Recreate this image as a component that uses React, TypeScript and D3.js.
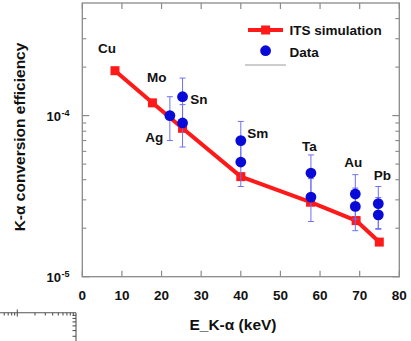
import React from "react";
import * as d3 from "d3";

// ITS simulation: K-alpha conversion efficiency vs K-alpha energy (keV)
const simEnergy = [8.25, 17.7, 25.3, 40.0, 57.6, 69.1, 74.95];
const simEff = [1.9e-4, 1.2e-4, 8.34e-5, 4.18e-5, 2.9e-5, 2.23e-5, 1.64e-5];

// Measured data with error bars
const dataEnergy = [22.1, 25.3, 25.3, 40.0, 40.0, 57.7, 57.7, 68.9, 68.9, 74.7, 74.7];
const dataEff = [1.0e-4, 1.31e-4, 9.0e-5, 7.0e-5, 5.15e-5, 4.4e-5, 3.12e-5, 3.26e-5, 2.73e-5, 2.84e-5, 2.42e-5];
const dataLo = [7.0e-5, 9.1e-5, 6.38e-5, 4.9e-5, 3.63e-5, 3.08e-5, 2.2e-5, 2.28e-5, 1.93e-5, 1.99e-5, 1.97e-5];
const dataHi = [1.31e-4, 1.71e-4, 1.17e-4, 9.2e-5, 6.7e-5, 5.7e-5, 4.06e-5, 4.3e-5, 3.55e-5, 3.63e-5, 3.1e-5];

// Element annotations (anchored in data units)
const elements = ["Cu", "Mo", "Sn", "Ag", "Sm", "Ta", "Au", "Pb"];
const elemEnergy = [6.23, 18.78, 29.45, 18.17, 44.27, 57.29, 68.39, 75.71];
const elemEff = [2.63e-4, 1.72e-4, 1.26e-4, 7.29e-5, 7.77e-5, 6.41e-5, 5.1e-5, 4.28e-5];

const xTicks = [0, 10, 20, 30, 40, 50, 60, 70, 80];
const yMajor = [1e-5, 1e-4];
const yMinor = [2e-5, 3e-5, 4e-5, 5e-5, 6e-5, 7e-5, 8e-5, 9e-5, 2e-4, 3e-4, 4e-4];
const yLabels = [{ v: 1e-4, exp: "-4" }, { v: 1e-5, exp: "-5" }];

const FONT = "'Liberation Sans', Arial, sans-serif";
const FRAME = "#8a8a8a";

export default function App() {
  const L = 82.3, R = 399.3, T = 3, B = 276.7;
  const x = d3.scaleLinear().domain([0, 80]).range([L, R]);
  const y = d3.scaleLog().domain([1e-5, 5e-4]).range([B, T]);

  const simLine = d3
    .line<number>()
    .x((_, i) => x(simEnergy[i]))
    .y((d) => y(d))(simEff) as string;

  // fragment of a neighbouring log-log panel, bottom-left corner
  const fx = d3.scaleLog().domain([1, 10]).range([17.3, 76]);
  const fy = d3.scaleLog().domain([1, 10]).range([372, 312.7]);
  const fxMinor = [0.6, 0.7, 0.8, 0.9, 2, 3, 4, 5, 6, 7, 8, 9];
  const fyMinor = [3, 4, 5, 6, 7, 8, 9];

  const sq = 9;
  const capW = 3;

  return (
    <svg
      width={411}
      height={341}
      style={{ position: "absolute", left: 0, top: 0, background: "#fff" }}
      fontFamily={FONT}
    >
      {/* frame */}
      <rect x={L} y={T} width={R - L} height={B - T} fill="none" stroke={FRAME} strokeWidth={1.3} />

      {/* x ticks (inward, bottom and top) */}
      {xTicks.map((t) => (
        <g key={"xt" + t}>
          <line x1={x(t)} x2={x(t)} y1={B} y2={B - 6} stroke={FRAME} strokeWidth={1.2} />
          <line x1={x(t)} x2={x(t)} y1={T} y2={T + 6} stroke={FRAME} strokeWidth={1.2} />
          <text x={x(t)} y={295} dy="0.35em" textAnchor="middle" fontSize={13.5} fontWeight="bold" fill="#111">
            {t}
          </text>
        </g>
      ))}

      {/* y ticks (inward, left and right) */}
      {yMajor.map((t) => (
        <g key={"ym" + t}>
          <line x1={L} x2={L + 7} y1={y(t)} y2={y(t)} stroke={FRAME} strokeWidth={1.2} />
          <line x1={R} x2={R - 7} y1={y(t)} y2={y(t)} stroke={FRAME} strokeWidth={1.2} />
        </g>
      ))}
      {yMinor.map((t) => (
        <g key={"yn" + t}>
          <line x1={L} x2={L + 4} y1={y(t)} y2={y(t)} stroke={FRAME} strokeWidth={1.1} />
          <line x1={R} x2={R - 4} y1={y(t)} y2={y(t)} stroke={FRAME} strokeWidth={1.1} />
        </g>
      ))}
      {yLabels.map((d) => (
        <text key={"yl" + d.exp} x={61} y={y(d.v) + 1} dy="0.35em" textAnchor="end" fontSize={13} fontWeight="bold" fill="#111">
          10
          <tspan x={61.5} dy="-0.55em" textAnchor="start" fontSize={9}>
            {d.exp}
          </tspan>
        </text>
      ))}

      {/* axis titles */}
      <text x={233} y={325} dy="0.35em" textAnchor="middle" fontSize={15.5} fontWeight="bold" fill="#111">
        E_K-α (keV)
      </text>
      <text
        transform={`translate(20,${137}) rotate(-90)`}
        dy="0.35em"
        textAnchor="middle"
        fontSize={15.5}
        fontWeight="bold"
        fill="#111"
      >
        K-α conversion efficiency
      </text>

      {/* simulation line + squares */}
      <path d={simLine} fill="none" stroke="#ff1a1a" strokeWidth={4} strokeLinejoin="round" />
      {simEff.map((v, i) => (
        <rect key={"s" + i} x={x(simEnergy[i]) - sq / 2} y={y(v) - sq / 2} width={sq} height={sq} fill="#ff1a1a" />
      ))}

      {/* error bars */}
      {dataEff.map((_, i) => {
        const cx = x(dataEnergy[i]);
        return (
          <g key={"e" + i} stroke="#6f6ff5" strokeWidth={1}>
            <line x1={cx} x2={cx} y1={y(dataLo[i])} y2={y(dataHi[i])} />
            <line x1={cx - capW} x2={cx + capW} y1={y(dataLo[i])} y2={y(dataLo[i])} />
            <line x1={cx - capW} x2={cx + capW} y1={y(dataHi[i])} y2={y(dataHi[i])} />
          </g>
        );
      })}
      {/* data points */}
      {dataEff.map((v, i) => (
        <circle key={"d" + i} cx={x(dataEnergy[i])} cy={y(v)} r={5.4} fill="#0a0ad8" />
      ))}

      {/* element labels */}
      {elements.map((e, i) => (
        <text
          key={e}
          x={x(elemEnergy[i])}
          y={y(elemEff[i])}
          dy="0.35em"
          textAnchor="middle"
          fontSize={13.5}
          fontWeight="bold"
          fill="#111"
        >
          {e}
        </text>
      ))}

      {/* legend */}
      <line x1={248} x2={283} y1={30} y2={30} stroke="#ff1a1a" strokeWidth={4} />
      <rect x={265.6 - sq / 2} y={30 - sq / 2} width={sq} height={sq} fill="#ff1a1a" />
      <text x={289.5} y={30} dy="0.35em" fontSize={13.5} fontWeight="bold" fill="#111">
        ITS simulation
      </text>
      <circle cx={265.6} cy={50.7} r={5.4} fill="#0a0ad8" />
      <text x={289.5} y={52} dy="0.35em" fontSize={13.5} fontWeight="bold" fill="#111">
        Data
      </text>
      <line x1={245} x2={286} y1={65} y2={65} stroke="#9a9a9a" strokeWidth={1} />

      {/* neighbouring panel corner */}
      <g stroke="#555" strokeWidth={1.1}>
        <line x1={0} x2={76} y1={312.7} y2={312.7} />
        <line x1={76} x2={76} y1={312.7} y2={341} />
        <line x1={fx(1)} x2={fx(1)} y1={309.5} y2={316.5} />
        {fxMinor.map((t) => (
          <line key={"fx" + t} x1={fx(t)} x2={fx(t)} y1={312.7} y2={315.5} />
        ))}
        {fyMinor.map((t) => (
          <line key={"fy" + t} x1={76} x2={72.5} y1={fy(t)} y2={fy(t)} />
        ))}
      </g>
    </svg>
  );
}
